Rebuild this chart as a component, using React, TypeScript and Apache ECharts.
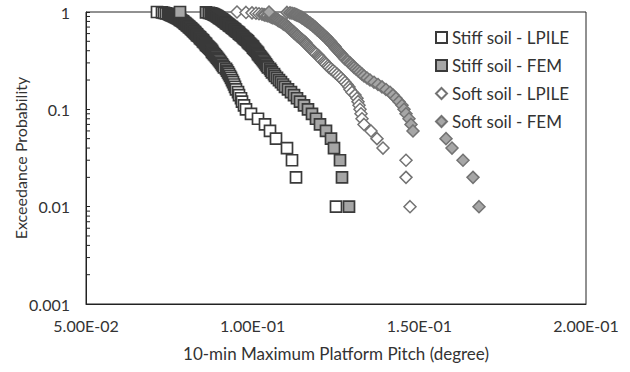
import React, { useEffect, useRef } from "react";
import * as echarts from "echarts";

// Exceedance probabilities (shared by every series)
const PROB = [
  1.0, 0.99, 0.98, 0.97, 0.96, 0.95, 0.94, 0.93, 0.92, 0.91,
  0.9, 0.89, 0.88, 0.87, 0.86, 0.85, 0.84, 0.83, 0.82, 0.81,
  0.8, 0.79, 0.78, 0.77, 0.76, 0.75, 0.74, 0.73, 0.72, 0.71,
  0.7, 0.69, 0.68, 0.67, 0.66, 0.65, 0.64, 0.63, 0.62, 0.61,
  0.6, 0.59, 0.58, 0.57, 0.56, 0.55, 0.54, 0.53, 0.52, 0.51,
  0.5, 0.49, 0.48, 0.47, 0.46, 0.45, 0.44, 0.43, 0.42, 0.41,
  0.4, 0.39, 0.38, 0.37, 0.36, 0.35, 0.34, 0.33, 0.32, 0.31,
  0.3, 0.29, 0.28, 0.27, 0.26, 0.25, 0.24, 0.23, 0.22, 0.21,
  0.2, 0.19, 0.18, 0.17, 0.16, 0.15, 0.14, 0.13, 0.12, 0.11,
  0.1, 0.09, 0.08, 0.07, 0.06, 0.05, 0.04, 0.03, 0.02, 0.01,
];

// 10-min maximum platform pitch (degree)
const STIFF_LPILE = [
  0.0713, 0.0728, 0.0734, 0.074, 0.0746, 0.0749, 0.0752, 0.0755, 0.0758, 0.0761,
  0.0764, 0.0767, 0.077, 0.0773, 0.0776, 0.0779, 0.0782, 0.0782, 0.0785, 0.0788,
  0.0791, 0.0791, 0.0794, 0.0797, 0.0797, 0.08, 0.0803, 0.0803, 0.0806, 0.0809,
  0.0809, 0.0812, 0.0815, 0.0815, 0.0818, 0.0821, 0.0821, 0.0824, 0.0827, 0.0827,
  0.083, 0.0833, 0.0833, 0.0836, 0.0839, 0.0842, 0.0842, 0.0845, 0.0848, 0.0851,
  0.0851, 0.0854, 0.0857, 0.086, 0.086, 0.0863, 0.0866, 0.0869, 0.0872, 0.0875,
  0.0878, 0.0878, 0.0881, 0.0884, 0.0887, 0.089, 0.0893, 0.0896, 0.0899, 0.0902,
  0.0905, 0.0908, 0.0911, 0.0914, 0.092, 0.0923, 0.0926, 0.0929, 0.0932, 0.0935,
  0.0938, 0.0941, 0.0944, 0.0947, 0.095, 0.0956, 0.0959, 0.0965, 0.0968, 0.0974,
  0.098, 0.0995, 0.1016, 0.1037, 0.1052, 0.107, 0.1103, 0.1118, 0.113, 0.125,
];

const STIFF_FEM = [
  0.0782, 0.086, 0.0869, 0.0875, 0.0878, 0.0881, 0.0884, 0.0887, 0.089, 0.0893,
  0.0893, 0.0896, 0.0899, 0.0899, 0.0902, 0.0905, 0.0908, 0.0908, 0.0911, 0.0914,
  0.0914, 0.0917, 0.092, 0.092, 0.0923, 0.0926, 0.0929, 0.0929, 0.0932, 0.0935,
  0.0938, 0.0938, 0.0941, 0.0944, 0.0947, 0.0947, 0.095, 0.0953, 0.0956, 0.0959,
  0.0959, 0.0962, 0.0965, 0.0968, 0.0971, 0.0971, 0.0974, 0.0977, 0.098, 0.0983,
  0.0986, 0.0986, 0.0989, 0.0992, 0.0995, 0.0998, 0.1001, 0.1001, 0.1004, 0.1007,
  0.101, 0.1013, 0.1016, 0.1016, 0.1019, 0.1022, 0.1025, 0.1028, 0.1031, 0.1034,
  0.1037, 0.104, 0.1043, 0.1046, 0.1052, 0.1055, 0.1058, 0.1064, 0.1067, 0.1073,
  0.1079, 0.1085, 0.1091, 0.1097, 0.1106, 0.1115, 0.1124, 0.1133, 0.1142, 0.1154,
  0.1166, 0.1178, 0.119, 0.1202, 0.122, 0.1235, 0.1244, 0.1262, 0.1268, 0.1289,
];

const SOFT_LPILE = [
  0.0953, 0.098, 0.0998, 0.101, 0.1019, 0.1028, 0.1034, 0.1037, 0.1043, 0.1046,
  0.1052, 0.1055, 0.1058, 0.1061, 0.1067, 0.107, 0.1073, 0.1076, 0.1076, 0.1079,
  0.1082, 0.1085, 0.1088, 0.1091, 0.1091, 0.1094, 0.1097, 0.11, 0.1103, 0.1103,
  0.1106, 0.1109, 0.1109, 0.1112, 0.1115, 0.1115, 0.1118, 0.1121, 0.1124, 0.1124,
  0.1127, 0.113, 0.1133, 0.1133, 0.1136, 0.1139, 0.1142, 0.1145, 0.1148, 0.1151,
  0.1154, 0.1157, 0.116, 0.116, 0.1163, 0.1166, 0.1169, 0.1172, 0.1175, 0.1178,
  0.1181, 0.1184, 0.1187, 0.119, 0.1196, 0.1199, 0.1202, 0.1205, 0.1208, 0.1214,
  0.1217, 0.122, 0.1226, 0.1229, 0.1235, 0.1241, 0.1247, 0.1253, 0.1259, 0.1265,
  0.1271, 0.1277, 0.1283, 0.1289, 0.1292, 0.1298, 0.1307, 0.1313, 0.1316, 0.1319,
  0.1322, 0.1325, 0.1328, 0.1334, 0.1355, 0.1373, 0.1391, 0.146, 0.146, 0.1472,
];

const SOFT_FEM = [
  0.1049, 0.1103, 0.1112, 0.1118, 0.1124, 0.1127, 0.113, 0.1133, 0.1136, 0.1139,
  0.1142, 0.1145, 0.1148, 0.1148, 0.1151, 0.1154, 0.1157, 0.1157, 0.116, 0.1163,
  0.1163, 0.1166, 0.1169, 0.1172, 0.1172, 0.1175, 0.1178, 0.1181, 0.1181, 0.1184,
  0.1187, 0.1187, 0.119, 0.1193, 0.1193, 0.1196, 0.1199, 0.1202, 0.1202, 0.1205,
  0.1208, 0.1211, 0.1211, 0.1214, 0.1217, 0.122, 0.1223, 0.1223, 0.1226, 0.1229,
  0.1232, 0.1235, 0.1235, 0.1238, 0.1241, 0.1244, 0.1247, 0.1247, 0.125, 0.1253,
  0.1256, 0.1259, 0.1262, 0.1265, 0.1268, 0.1271, 0.1274, 0.1277, 0.1283, 0.1286,
  0.1292, 0.1295, 0.1301, 0.1304, 0.131, 0.1316, 0.1322, 0.1328, 0.1334, 0.1343,
  0.1352, 0.1364, 0.1376, 0.1388, 0.14, 0.1412, 0.1421, 0.143, 0.1439, 0.1448,
  0.1454, 0.146, 0.1469, 0.1475, 0.1481, 0.158, 0.1598, 0.1631, 0.1661, 0.1679,
];

const SERIES_NAMES = [
  "Stiff soil - LPILE",
  "Stiff soil - FEM",
  "Soft soil - LPILE",
  "Soft soil - FEM",
];

const X_MIN = 0.05;
const X_MAX = 0.2;
const X_INTERVAL = 0.05;
const Y_MIN = 0.001;
const Y_MAX = 1;
const Y_MINOR_TICKS = [
  0.002, 0.003, 0.004, 0.005, 0.006, 0.007, 0.008, 0.009,
  0.02, 0.03, 0.04, 0.05, 0.06, 0.07, 0.08, 0.09,
  0.2, 0.3, 0.4, 0.5, 0.6, 0.7, 0.8, 0.9,
];

const FONT = "Lato, 'Liberation Sans', sans-serif";
const TEXT = "#333333";

function pair(xs: number[]) {
  return xs.map((x, i) => [x, PROB[i]]);
}

function sciLabel(v: number) {
  const [m, e] = v.toExponential(2).split("e");
  const n = parseInt(e, 10);
  return m + "E" + (n < 0 ? "-" : "+") + String(Math.abs(n)).padStart(2, "0");
}

export default function App() {
  const ref = useRef<HTMLDivElement>(null);
  useEffect(() => {
    if (!ref.current) return;
    const chart = echarts.init(ref.current, undefined, { renderer: "svg" });
    const styles = [
      { symbol: "rect", size: 11, fill: "#ffffff", stroke: "#3a3a3a", bw: 1.7 },
      { symbol: "rect", size: 11, fill: "#a6a6a6", stroke: "#3a3a3a", bw: 1.7 },
      { symbol: "diamond", size: 12, fill: "#ffffff", stroke: "#737373", bw: 1.5 },
      { symbol: "diamond", size: 12, fill: "#a6a6a6", stroke: "#737373", bw: 1.5 },
    ];
    const datasets = [STIFF_LPILE, STIFF_FEM, SOFT_LPILE, SOFT_FEM];
    const scatter = datasets.map((xs, k) => ({
      name: SERIES_NAMES[k],
      type: "scatter",
      symbol: styles[k].symbol,
      symbolSize: styles[k].size,
      data: pair(xs),
      itemStyle: {
        color: styles[k].fill,
        borderColor: styles[k].stroke,
        borderWidth: styles[k].bw,
        opacity: 1,
      },
      emphasis: { disabled: true },
      z: 2 + k,
    }));
    chart.setOption({
      animation: false,
      backgroundColor: "#ffffff",
      textStyle: { fontFamily: FONT },
      grid: {
        left: 86,
        right: 44,
        top: 12,
        bottom: 68,
        outerBoundsMode: "none",
        containLabel: false,
        show: true,
        borderColor: "#222222",
        borderWidth: 1,
        backgroundColor: "transparent",
      },
      legend: {
        orient: "vertical",
        left: 430,
        top: 24,
        itemWidth: 11,
        itemHeight: 11,
        itemGap: 11,
        data: SERIES_NAMES,
        textStyle: { fontSize: 17, color: TEXT, fontFamily: FONT },
        selectedMode: false,
      },
      xAxis: {
        type: "value",
        min: X_MIN,
        max: X_MAX,
        interval: X_INTERVAL,
        name: "10-min Maximum Platform Pitch (degree)",
        nameLocation: "middle",
        nameGap: 41,
        nameMoveOverlap: false,
        nameTextStyle: { fontSize: 17, color: TEXT, fontFamily: FONT },
        axisLine: { show: true, lineStyle: { color: "#222222", width: 1 } },
        axisTick: { show: false },
        splitLine: { show: false },
        axisLabel: {
          fontSize: 16,
          color: TEXT,
          margin: 13,
          fontFamily: FONT,
          formatter: (v: number) => sciLabel(v),
        },
      },
      yAxis: {
        type: "log",
        logBase: 10,
        min: Y_MIN,
        max: Y_MAX,
        name: "Exceedance Probability",
        nameLocation: "middle",
        nameGap: 58,
        nameMoveOverlap: false,
        nameTextStyle: { fontSize: 16, color: TEXT, fontFamily: FONT },
        axisLine: { show: true, lineStyle: { color: "#222222", width: 1 } },
        axisTick: { show: true, inside: true, length: 4, lineStyle: { color: "#222222" } },
        splitLine: { show: false },
        axisLabel: {
          fontSize: 16,
          color: TEXT,
          margin: 16,
          fontFamily: FONT,
          formatter: (v: number) => String(+v.toPrecision(3)),
        },
      },
      series: [
        {
          type: "custom",
          name: "minorTicks",
          silent: true,
          coordinateSystem: "cartesian2d",
          data: Y_MINOR_TICKS.map((v) => [X_MIN, v]),
          encode: { x: 0, y: 1 },
          renderItem: (_p: any, api: any) => {
            const pt = api.coord([api.value(0), api.value(1)]);
            return {
              type: "line",
              shape: { x1: pt[0], y1: pt[1], x2: pt[0] + 4, y2: pt[1] },
              style: { stroke: "#222222", lineWidth: 1 },
            };
          },
          z: 10,
        },
        ...scatter,
      ],
    });
    return () => chart.dispose();
  }, []);
  return (
    <div
      ref={ref}
      style={{ position: "fixed", left: 0, top: 0, width: 630, height: 372, background: "#fff" }}
    />
  );
}
